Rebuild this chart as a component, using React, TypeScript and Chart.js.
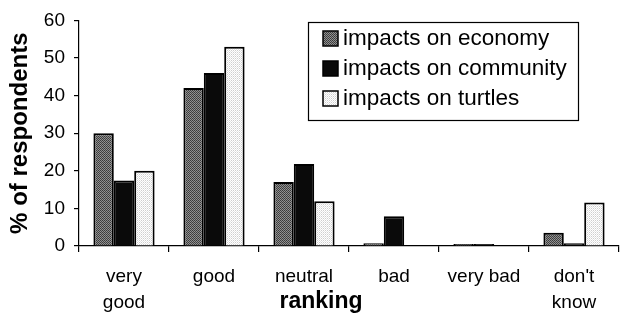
import { useEffect, useRef } from "react";
import { Chart, registerables } from "chart.js";
Chart.register(...registerables);

const categories: (string | string[])[] = [["very", "good"], "good", "neutral", "bad", "very bad", ["don't", "know"]];
const seriesNames = ["impacts on economy", "impacts on community", "impacts on turtles"];
const economy = [30, 42, 17, 0.7, 0.5, 3.5];
const community = [17.4, 46, 21.8, 7.9, 0.5, 0.7];
const turtles = [20, 53, 11.9, 0, 0, 11.6];
const yMin = 0;
const yMax = 60;
const yStep = 10;
const yTitle = "% of respondents";
const xTitle = "ranking";

const FONT = "'Liberation Sans', Arial, sans-serif";

function makePattern(rows: string[][]): CanvasPattern | string {
  const c = document.createElement("canvas");
  c.height = rows.length;
  c.width = rows[0].length;
  const ctx = c.getContext("2d");
  if (!ctx) return "#888";
  rows.forEach((r, y) => r.forEach((col, x) => { ctx.fillStyle = col; ctx.fillRect(x, y, 1, 1); }));
  return ctx.createPattern(c, "repeat") || "#888";
}

export default function App() {
  const ref = useRef<HTMLCanvasElement>(null);
  useEffect(() => {
    document.body.style.margin = "0";
    const canvas = ref.current!;
    const econFill = makePattern([["#3a3a3a", "#8a8a8a"], ["#959595", "#444444"]]);
    const turtFill = makePattern([["#ffffff", "#cfcfcf"], ["#e6e6e6", "#ffffff"]]);
    const fills = [econFill, "#0a0a0a", turtFill];

    const legendPlugin = {
      id: "boxLegend",
      afterDraw(chart: any) {
        const ctx = chart.ctx as CanvasRenderingContext2D;
        ctx.save();
        ctx.strokeStyle = "#000";
        ctx.lineWidth = 1.2;
        ctx.strokeRect(308.5, 22.5, 270, 98);
        ctx.font = `22.5px ${FONT}`;
        ctx.textBaseline = "middle";
        ctx.textAlign = "left";
        chart.data.datasets.forEach((ds: any, i: number) => {
          const cy = 39 + i * 30;
          ctx.fillStyle = ds.backgroundColor;
          ctx.fillRect(323, cy - 8, 15, 15);
          ctx.strokeStyle = "#000";
          ctx.lineWidth = 1.5;
          ctx.strokeRect(323, cy - 8, 15, 15);
          ctx.fillStyle = "#000";
          ctx.fillText(ds.label, 343, cy);
        });
        // x axis title
        ctx.font = `bold 23px ${FONT}`;
        ctx.textAlign = "center";
        ctx.textBaseline = "alphabetic";
        ctx.fillText(xTitle, 321, 308);
        ctx.restore();
      },
    };

    const chart = new Chart(canvas, {
      type: "bar",
      data: {
        labels: categories as any,
        datasets: [economy, community, turtles].map((d, i) => ({
          label: seriesNames[i],
          data: d,
          backgroundColor: fills[i] as any,
          borderColor: "#000",
          borderWidth: 2,
          categoryPercentage: 0.68,
          barPercentage: 1,
        })),
      },
      options: {
        responsive: false,
        animation: false,
        layout: { padding: { top: 18, right: 1, left: 0, bottom: 0 } },
        plugins: { legend: { display: false }, tooltip: { enabled: false } },
        scales: {
          x: {
            grid: { drawOnChartArea: false, drawTicks: true, tickLength: 6, color: "#000", lineWidth: 1.2, offset: true },
            border: { color: "#000", width: 1.2 },
            ticks: { color: "#000", font: { family: FONT, size: 19, lineHeight: 1.4 }, padding: 11, maxRotation: 0, autoSkip: false },
            afterFit: (s: any) => { s.height = 72; },
          },
          y: {
            min: yMin,
            max: yMax,
            grid: { drawOnChartArea: false, drawTicks: true, tickLength: 5, color: "#000", lineWidth: 1.2 },
            border: { color: "#000", width: 1.2 },
            ticks: { stepSize: yStep, color: "#000", font: { family: FONT, size: 19 }, padding: 9 },
            title: { display: true, text: yTitle, color: "#000", font: { family: FONT, size: 24, weight: "bold" }, padding: { top: 6, bottom: 0 } },
            afterFit: (s: any) => { s.width = 79; },
          },
        },
      },
      plugins: [legendPlugin],
    });
    return () => chart.destroy();
  }, []);
  return (
    <div style={{ width: 620, height: 318 }}>
      <canvas ref={ref} width={620} height={318} style={{ display: "block" }} />
    </div>
  );
}
